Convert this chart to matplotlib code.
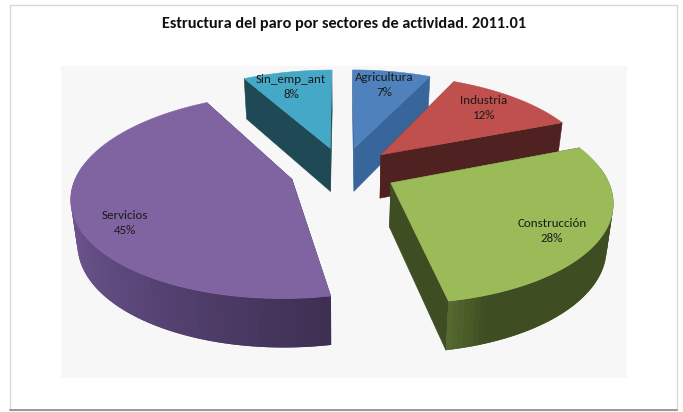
import numpy as np
import matplotlib
matplotlib.use("Agg")
import matplotlib.pyplot as plt
from matplotlib.patches import Polygon, Rectangle
from matplotlib.colors import to_rgb

categories = ["Agricultura", "Industria", "Construcción", "Servicios", "Sin_emp_ant"]
values = [7.0, 12.0, 28.0, 45.0, 8.0]
pct_labels = ["7%", "12%", "28%", "45%", "8%"]
top_colors = ["#4F81BD", "#C0504D", "#9BBB59", "#8064A2", "#45A8C6"]
radial_colors = ["#38659A", "#4F2120", "#3F4D22", "#3F3055", "#1F4A55"]
# side colour stops: (angle in degrees clockwise from the top, colour)
arc_stops = [
    [(0, "#38659A"), (360, "#38659A")],
    [(0, "#4F2120"), (360, "#4F2120")],
    [(60, "#3F4D22"), (160, "#3F4D22"), (169.2, "#566A30")],
    [(169.2, "#3D2F52"), (225, "#5F4A7E"), (285, "#7C619E")],
    [(0, "#1F4A55"), (360, "#1F4A55")],
]
label_xy = [(384, 85), (484, 108), (552, 231), (125, 223), (291, 87)]
draw_order = [0, 4, 1, 3, 2]
title = "Estructura del paro por sectores de actividad. 2011.01"

CX, CY, FX, FY, P = 343.0, 171.0, 214.0, 97.3, 0.159
EXPLODE = 0.25
SHRINK = 0.975


def project(X, Y):
    s = 1.0 / (1.0 + P * Y)
    return CX + FX * X * s, CY - FY * Y * s, s


def lower(px, py, s):
    return CX + (px - CX) * SHRINK, py + 20.0 + 24.0 * s


def lerp_colour(stops, a):
    angs = [t[0] for t in stops]
    cols = np.array([to_rgb(t[1]) for t in stops])
    return tuple(np.interp(a, angs, cols[:, i]) for i in range(3))


plt.rcParams["font.family"] = ["Carlito", "Lato", "DejaVu Sans"]
fig = plt.figure(figsize=(6.83, 4.12), dpi=100, facecolor="white")
ax = fig.add_axes([0, 0, 1, 1])
ax.set_xlim(0, 683)
ax.set_ylim(412, 0)
ax.axis("off")

ax.add_patch(Rectangle((10, 5), 667, 405, fc="white", ec="#D9D9D9", lw=1.0, zorder=0))
ax.plot([10, 677], [410, 410], color="#8C8C8C", lw=1.2, zorder=0.5)
ax.add_patch(Rectangle((61, 66), 566, 312, fc="#F7F7F8", ec="none", zorder=1))

total = sum(values)
edges = np.concatenate([[0], np.cumsum(values)]) / total * 360.0
z = 2.0
for i in draw_order:
    a0, a1 = edges[i], edges[i + 1]
    mid = np.radians((a0 + a1) / 2)
    ox, oy = EXPLODE * np.sin(mid), EXPLODE * np.cos(mid)
    th = np.linspace(a0, a1, 80)
    X = ox + np.sin(np.radians(th))
    Y = oy + np.cos(np.radians(th))
    px, py, ps = project(X, Y)
    ax_, ay_, as_ = project(ox, oy)
    # radial faces
    for j in (0, -1):
        bx1, by1 = lower(ax_, ay_, as_)
        bx2, by2 = lower(px[j], py[j], ps[j])
        ax.add_patch(Polygon([(ax_, ay_), (px[j], py[j]), (bx2, by2), (bx1, by1)],
                             fc=radial_colors[i], ec=radial_colors[i], lw=0.4, zorder=z))
    z += 0.1
    # outer wall: overlapping quads so that no seams show
    bx, by = lower(px, py, ps)
    n = len(th)
    visible = [k for k in range(n - 1) if np.cos(np.radians(th[k])) < 0.16]
    if i == 3:
        visible = visible[::-1]
    for k in visible:
        m = min(k + 2, n - 1) if i != 3 else k + 1
        l = k if i != 3 else max(k - 1, 0)
        c = lerp_colour(arc_stops[i], (th[k] + th[k + 1]) / 2)
        ax.add_patch(Polygon([(px[l], py[l]), (px[m], py[m]),
                              (bx[m], by[m]), (bx[l], by[l])],
                             fc=c, ec="none", lw=0, zorder=z))
        z += 0.0005
    z += 0.1
    # top face
    ax.add_patch(Polygon(np.vstack([[ax_, ay_], np.column_stack([px, py])]),
                         fc=top_colors[i], ec=top_colors[i], lw=0.4, zorder=z))
    z += 0.1

for name, pct, (lx, ly) in zip(categories, pct_labels, label_xy):
    ax.text(lx, ly, f"{name}\n{pct}", ha="center", va="center", fontsize=9.4,
            color="#1A1A1A", linespacing=1.5, zorder=50)

ax.text(344, 23.5, title, ha="center", va="center", fontsize=11.7,
        fontweight="bold", color="#111111", zorder=50)

fig.savefig("out.png", dpi=100, facecolor="white")
